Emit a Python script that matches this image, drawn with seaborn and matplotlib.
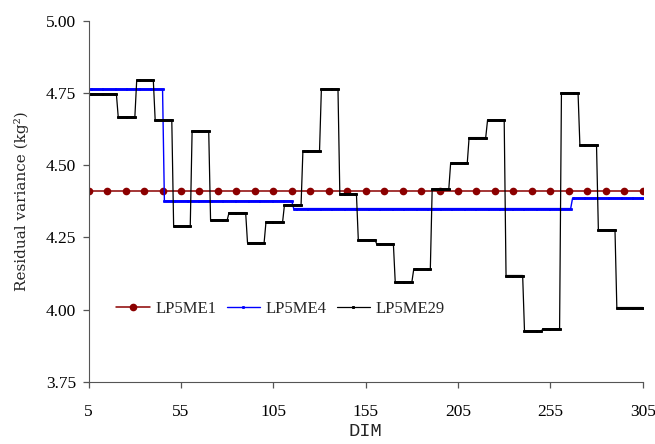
import matplotlib

matplotlib.use("Agg")

import matplotlib.pyplot as plt
import numpy as np
import pandas as pd
import seaborn as sns


# LP5ME1: constant residual variance, one point every 10 DIM
ME1_DIM = [5, 15, 25, 35, 45, 55, 65, 75, 85, 95, 105, 115, 125, 135, 145, 155,
           165, 175, 185, 195, 205, 215, 225, 235, 245, 255, 265, 275, 285, 295, 305]
ME1_VAR = [4.412, 4.412, 4.412, 4.412, 4.412, 4.412, 4.412, 4.412, 4.412, 4.412,
           4.412, 4.412, 4.412, 4.412, 4.412, 4.412, 4.412, 4.412, 4.412, 4.412,
           4.412, 4.412, 4.412, 4.412, 4.412, 4.412, 4.412, 4.412, 4.412, 4.412, 4.412]

# LP5ME4: step levels (first DIM of each step, level)
ME4_START = [5, 46, 116, 267]
ME4_LEVEL = [4.763, 4.376, 4.350, 4.385]

# LP5ME29: step levels (first DIM of each step, level)
ME29_START = [5, 21, 31, 41, 51, 61, 71, 81, 91, 101, 111, 121, 131, 141, 151,
              161, 171, 181, 191, 201, 211, 221, 231, 241, 251, 261, 271, 281, 291]
ME29_LEVEL = [4.747, 4.667, 4.794, 4.657, 4.289, 4.618, 4.310, 4.336, 4.232, 4.303,
              4.362, 4.549, 4.763, 4.399, 4.242, 4.227, 4.095, 4.139, 4.417, 4.507,
              4.596, 4.657, 4.118, 3.925, 3.933, 4.750, 4.569, 4.276, 4.007]

DIM_LAST = 305
X_TICKS = [5, 55, 105, 155, 205, 255, 305]
Y_TICKS = [3.75, 4.00, 4.25, 4.50, 4.75, 5.00]


def expand_steps(starts, levels, last):
    # one value per DIM, held until the next step starts
    ends = starts[1:] + [last + 1]
    dim = np.arange(starts[0], last + 1)
    counts = np.array(ends) - np.array(starts)
    return pd.DataFrame({"DIM": dim, "var": np.repeat(levels, counts)})


me1 = pd.DataFrame({"DIM": ME1_DIM, "var": ME1_VAR})
me4 = expand_steps(ME4_START, ME4_LEVEL, DIM_LAST)
me29 = expand_steps(ME29_START, ME29_LEVEL, DIM_LAST)

sns.set_style("ticks")
plt.rcParams["font.family"] = ["Liberation Serif", "DejaVu Serif"]
plt.rcParams["axes.edgecolor"] = "#555555"
plt.rcParams["xtick.color"] = "#555555"
plt.rcParams["ytick.color"] = "#555555"
plt.rcParams["xtick.labelcolor"] = "black"
plt.rcParams["ytick.labelcolor"] = "black"

fig, ax = plt.subplots(figsize=(6.55, 4.44), dpi=100)
fig.subplots_adjust(left=0.1354, right=0.9812, top=0.9527, bottom=0.1403)

sns.lineplot(data=me1, x="DIM", y="var", ax=ax, color="#8b0000", linewidth=1.1,
             marker="o", markersize=5.5, markeredgewidth=0, label="LP5ME1", estimator=None)
sns.lineplot(data=me4, x="DIM", y="var", ax=ax, color="#0000ff", linewidth=1.0,
             marker="s", markersize=1.3, markeredgewidth=0.7, markeredgecolor="#0000ff",
             label="LP5ME4", estimator=None)
sns.lineplot(data=me29, x="DIM", y="var", ax=ax, color="black", linewidth=0.9,
             marker="s", markersize=1.4, markeredgewidth=0.7, markeredgecolor="black",
             label="LP5ME29", estimator=None)

ax.set_xlim(5, 305)
ax.set_ylim(3.75, 5.00)
ax.set_xticks(X_TICKS)
ax.set_yticks(Y_TICKS)
ax.set_yticklabels([f"{v:.2f}" for v in Y_TICKS])
ax.tick_params(axis="both", labelsize=12.5, length=4, width=0.9, pad=5)
ax.tick_params(axis="x", pad=12)
sns.despine(ax=ax)

ax.set_ylabel("Residual variance (kg²)", fontsize=11, family=["DejaVu Serif"], labelpad=12)
ax.set_xlabel("DIM", fontsize=13.5, family=["Liberation Mono", "DejaVu Sans Mono"], labelpad=2)

ax.legend(loc="center left", bbox_to_anchor=(0.05, 0.2016), ncol=3, frameon=False,
          fontsize=12, borderaxespad=0, borderpad=0, handlelength=2.0,
          handletextpad=0.35, columnspacing=0.6)

fig.savefig("out.png", dpi=100)
